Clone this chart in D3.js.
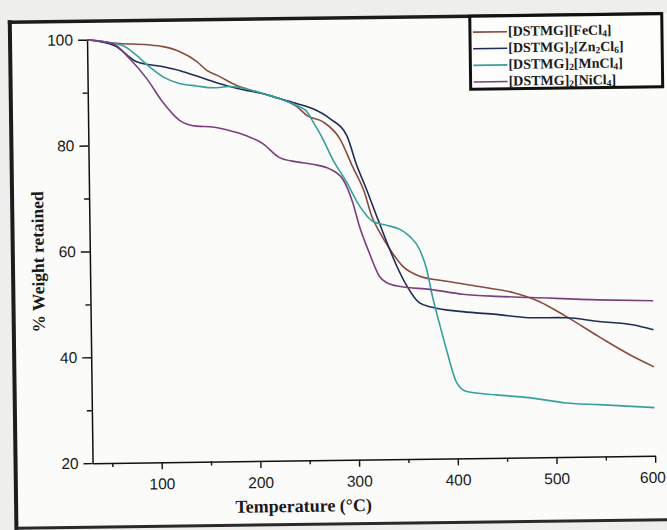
<!DOCTYPE html>
<html>
<head>
<meta charset="utf-8">
<script src="https://cdn.jsdelivr.net/npm/d3@7/dist/d3.min.js"></script>
<style>
  html, body { margin: 0; padding: 0; background: #efefed; }
  svg { display: block; }
</style>
</head>
<body>
<div id="chart"></div>
<script>
// TGA curves: [temperature °C, % weight retained]
const feCl4 = [[30,100],[63,99.2],[91,98.9],[107,98.5],[124,97.5],[141,95.6],[151,93.9],[164,92.7],[181,91.0],[191,90.3],[207,89.4],[224,88.4],[242,86.8],[252,85.1],[268,83.9],[285,80.6],[297,75.5],[309,70.5],[316,66.0],[324,62.9],[334,59.7],[347,56.4],[364,54.5],[391,53.5],[424,52.4],[458,51.2],[485,49.4],[512,46.5],[545,42.6],[579,38.8],[600,36.8]];
const zn2Cl6 = [[30,100],[58,98.8],[80,95.7],[107,94.7],[124,93.9],[140,92.9],[157,91.8],[174,90.8],[191,90.0],[207,89.4],[224,88.4],[242,87.4],[258,86.4],[275,84.5],[292,81.2],[301,75.9],[311,71.1],[321,66.0],[331,61.0],[341,56.4],[351,52.6],[363,49.5],[376,48.6],[407,47.7],[441,47.1],[474,46.4],[512,46.3],[545,45.5],[579,44.8],[600,43.8]];
const mnCl4 = [[30,100],[66,98.8],[80,96.9],[93,94.7],[106.5,92.8],[123,91.5],[140,91.0],[157,90.6],[174,90.8],[191,90.3],[207,89.4],[224,88.4],[242,87.0],[252,85.8],[258,83.9],[267.5,80.7],[277,76.9],[291,72.5],[304,67.9],[317,65.0],[331,64.2],[344.5,63.4],[354,62.1],[364,59.6],[371,55.8],[376.6,50.6],[383,45.7],[390,40.6],[400,34.3],[410,32.6],[440,31.9],[473,31.3],[511,30.2],[544,29.8],[600,29.1]];
const niCl4 = [[30,100],[56,99.2],[73,96.3],[90,92.5],[106,88.0],[123,84.5],[140,83.4],[156,83.2],[173,82.5],[191,81.4],[207,79.9],[223,77.3],[241,76.4],[257,75.9],[274,75.0],[287,73.1],[297,68.6],[303.5,64.1],[313,59.1],[323,54.6],[330,53.4],[344,52.6],[374,52.0],[407,51.0],[442,50.5],[477,50.2],[545,49.6],[600,49.3]];

// legend labels as [text, isSubscript] pieces
const labelFe = [["[DSTMG][FeCl",0],["4",1],["]",0]];
const labelZn = [["[DSTMG]",0],["2",1],["[Zn",0],["2",1],["Cl",0],["6",1],["]",0]];
const labelMn = [["[DSTMG]",0],["2",1],["[MnCl",0],["4",1],["]",0]];
const labelNi = [["[DSTMG]",0],["2",1],["[NiCl",0],["4",1],["]",0]];

const colors = ["#8a4b3e", "#1e2c58", "#35a09e", "#7c3e7e"];

const yTicks = [20, 40, 60, 80, 100];
const yMinor = [30, 50, 70, 90];
const xTicks = [100, 200, 300, 400, 500, 600];
const xMinor = [50, 150, 250, 350, 450, 550];

const width = 667, height = 530;
const series = [
  {values: feCl4, label: labelFe, color: colors[0]},
  {values: zn2Cl6, label: labelZn, color: colors[1]},
  {values: mnCl4, label: labelMn, color: colors[2]},
  {values: niCl4, label: labelNi, color: colors[3]}
];

const x = d3.scaleLinear().domain([30, 600]).range([90, 652.6]);
const y = d3.scaleLinear().domain([20, 100]).range([460, 36.5]);

const svg = d3.select("#chart").append("svg")
    .attr("width", width)
    .attr("height", height);

svg.append("rect").attr("width", width).attr("height", height).attr("fill", "#eeeeec");

// the scan is slightly tilted
const g = svg.append("g").attr("transform", "rotate(-0.75,333,265)");

// paper frame
g.append("rect").attr("x", 13).attr("y", 18).attr("width", 680).attr("height", 506).attr("fill", "#fbfbfa");
g.append("line").attr("x1", 13).attr("x2", 13).attr("y1", 16).attr("y2", 545)
    .attr("stroke", "#1c1c1c").attr("stroke-width", 4);
g.append("line").attr("x1", 11).attr("x2", 666).attr("y1", 18).attr("y2", 18)
    .attr("stroke", "#1c1c1c").attr("stroke-width", 3.5);
g.append("line").attr("x1", 13).attr("x2", 690).attr("y1", 524).attr("y2", 524)
    .attr("stroke", "#2a2a2a").attr("stroke-width", 3);

// axes
const axisFont = "'Liberation Sans', Arial, sans-serif";

g.append("g").attr("transform", `translate(${x(30)},0)`)
    .call(d3.axisLeft(y).tickValues(yTicks).tickSize(9).tickSizeOuter(0).tickPadding(5));
g.append("g").attr("transform", `translate(${x(30)},0)`)
    .call(d3.axisLeft(y).tickValues(yMinor).tickSize(5).tickSizeOuter(0).tickFormat(""))
    .call(a => a.select(".domain").remove());

g.append("g").attr("transform", `translate(0,${y(20)})`)
    .call(d3.axisBottom(x).tickValues(xTicks).tickSize(7).tickSizeOuter(0).tickPadding(9))
    .call(a => a.selectAll(".tick text").filter(d => d === 600).attr("dx", -3));
g.append("g").attr("transform", `translate(0,${y(20)})`)
    .call(d3.axisBottom(x).tickValues(xMinor).tickSize(4).tickSizeOuter(0).tickFormat(""))
    .call(a => a.select(".domain").remove());

g.selectAll(".domain").attr("stroke", "#111").attr("stroke-width", 1.5);
g.selectAll(".tick line").attr("stroke", "#111").attr("stroke-width", 1.4);
g.selectAll(".tick text")
    .style("font-family", axisFont)
    .style("font-size", "15.5px")
    .attr("fill", "#1a1a1a");

// curves
const line = d3.line()
    .x(d => x(d[0]))
    .y(d => y(d[1]))
    .curve(d3.curveMonotoneX);

g.append("g").selectAll("path")
  .data(series)
  .join("path")
    .attr("d", d => line(d.values))
    .attr("fill", "none")
    .attr("stroke", d => d.color)
    .attr("stroke-width", 1.6)
    .attr("stroke-linejoin", "round");

// axis titles
const serif = "'Liberation Serif', 'Times New Roman', serif";
g.append("text")
    .attr("x", 300.5).attr("y", 511.5)
    .attr("text-anchor", "middle")
    .style("font-family", serif).style("font-weight", "bold").style("font-size", "18px")
    .attr("fill", "#1a1a1a")
    .text("Temperature (°C)");

g.append("text")
    .attr("transform", "translate(44,258) rotate(-90)")
    .attr("text-anchor", "middle")
    .style("font-family", serif).style("font-weight", "bold").style("font-size", "17.5px")
    .attr("fill", "#1a1a1a")
    .text("% Weight retained");

// legend
const legend = g.append("g");
legend.append("rect")
    .attr("x", 473).attr("y", 18).attr("width", 192).attr("height", 73)
    .attr("fill", "#fdfdfc").attr("stroke", "#111").attr("stroke-width", 3);

const rows = legend.selectAll("g.row")
  .data(series)
  .join("g")
    .attr("class", "row")
    .attr("transform", (d, i) => `translate(0,${33 + i * 16.6})`);

rows.append("line")
    .attr("x1", 476).attr("x2", 510).attr("y1", 1).attr("y2", 1)
    .attr("stroke", d => d.color).attr("stroke-width", 1.6);

rows.append("text")
    .attr("x", 511).attr("y", 5)
    .style("font-family", serif).style("font-weight", "bold").style("font-size", "14px")
    .attr("fill", "#1a1a1a")
    .each(function(d) {
      const t = d3.select(this);
      d.label.forEach(([s, sub]) => {
        t.append("tspan")
          .attr("font-size", sub ? "9.5px" : "14px")
          .attr("baseline-shift", sub ? "-2" : null)
          .text(s);
      });
    });
</script>
</body>
</html>
